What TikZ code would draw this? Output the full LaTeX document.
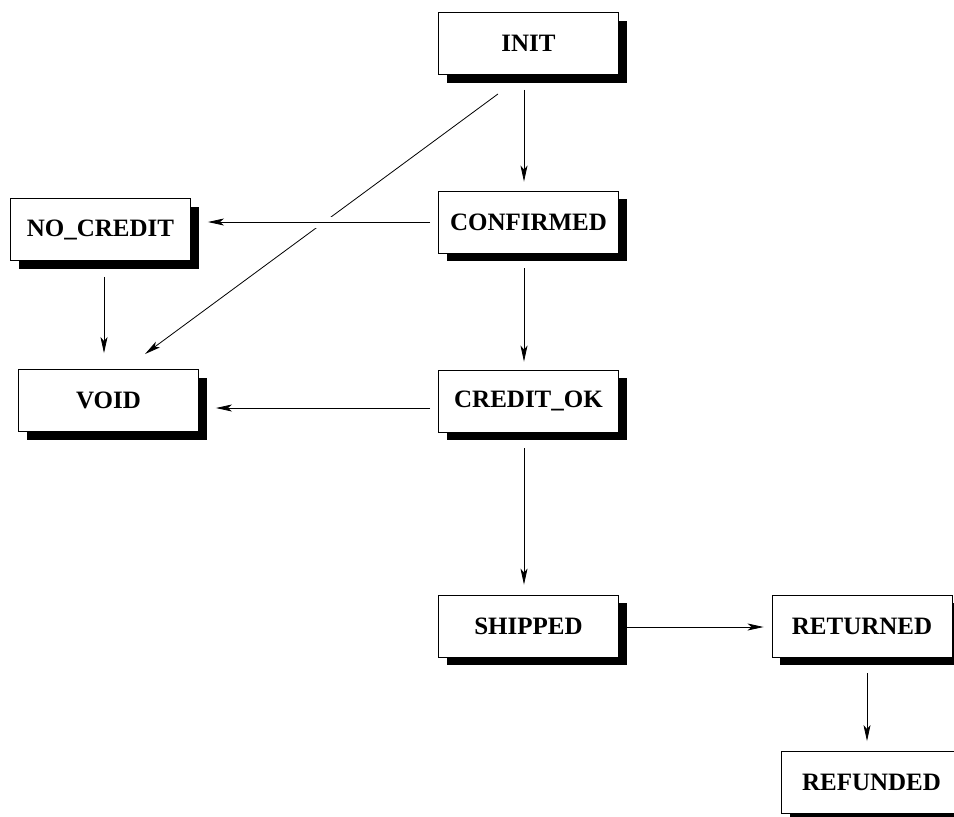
\documentclass[tikz,border=0pt]{standalone}
\usepackage{fontspec}
\setmainfont{Liberation Serif}
\usetikzlibrary{arrows.meta,shadows,calc}

\tikzset{
  state/.style={draw=black, line width=0.9pt, fill=white,
    minimum width=180pt, minimum height=62pt, inner sep=0pt,
    font=\fontsize{25}{30}\selectfont\bfseries,
    drop shadow={shadow xshift=8pt, shadow yshift=-8pt, fill=black, opacity=1}},
  trans/.style={draw=black, line width=0.8pt,
    -{Stealth[length=16pt, width=7pt, inset=4pt]}},
  gapped/.style={preaction={draw=white, line width=11pt, -}}
}

\begin{document}
\begin{tikzpicture}[x=1pt, y=-1pt]
  \clip (0,0) rectangle (954,817);

  % states
  \node[state] (INIT)      at (528.5, 43.5)  {INIT};
  \node[state] (CONFIRMED) at (528.5, 222)   {CONFIRMED};
  \node[state] (CREDITOK)  at (528.5, 401)   {CREDIT\_OK};
  \node[state] (SHIPPED)   at (528.5, 626)   {SHIPPED};
  \node[state] (NOCREDIT)  at (100.5, 229.5) {NO\_CREDIT};
  \node[state] (VOID)      at (108.5, 400.5) {VOID};
  \node[state] (RETURNED)  at (862, 626)     {RETURNED};
  \node[state] (REFUNDED)  at (871.5, 782.5) {REFUNDED};

  % main line of transitions
  \draw[trans, shorten <=15pt, shorten >=9pt]
    ([xshift=-4.5pt]INIT.south) -- ([xshift=-4.5pt]CONFIRMED.north);
  \draw[trans, shorten <=15pt, shorten >=8pt]
    ([xshift=-4.5pt]CONFIRMED.south) -- ([xshift=-4.5pt]CREDITOK.north);
  \draw[trans, shorten <=16pt, shorten >=10pt]
    ([xshift=-4.5pt]CREDITOK.south) -- ([xshift=-4.5pt]SHIPPED.north);

  % INIT straight to VOID, broken where it passes under the next line
  \draw[trans] ($(INIT.south)+(-30.5,19)$) -- ($(VOID.north)+(36.5,-15)$);

  % side branches
  \draw[trans, gapped, shorten <=8pt, shorten >=17pt]
    (CONFIRMED.west) -- (CONFIRMED.west -| NOCREDIT.east);
  \draw[trans, shorten <=8pt, shorten >=17pt]
    ([yshift=-7pt]CREDITOK.west) -- ([yshift=-7pt]CREDITOK.west -| VOID.east);
  \draw[trans, shorten <=16pt, shorten >=16pt]
    ([xshift=3.5pt]NOCREDIT.south) -- ([xshift=3.5pt]NOCREDIT.south |- VOID.north);

  % returns
  \draw[trans, shorten <=7pt, shorten >=8pt]
    ([yshift=-1pt]SHIPPED.east) -- ([yshift=-1pt]SHIPPED.east -| RETURNED.west);
  \draw[trans, shorten <=16pt, shorten >=10pt]
    ([xshift=5pt]RETURNED.south) -- ([xshift=5pt]RETURNED.south |- REFUNDED.north);
\end{tikzpicture}
\end{document}
